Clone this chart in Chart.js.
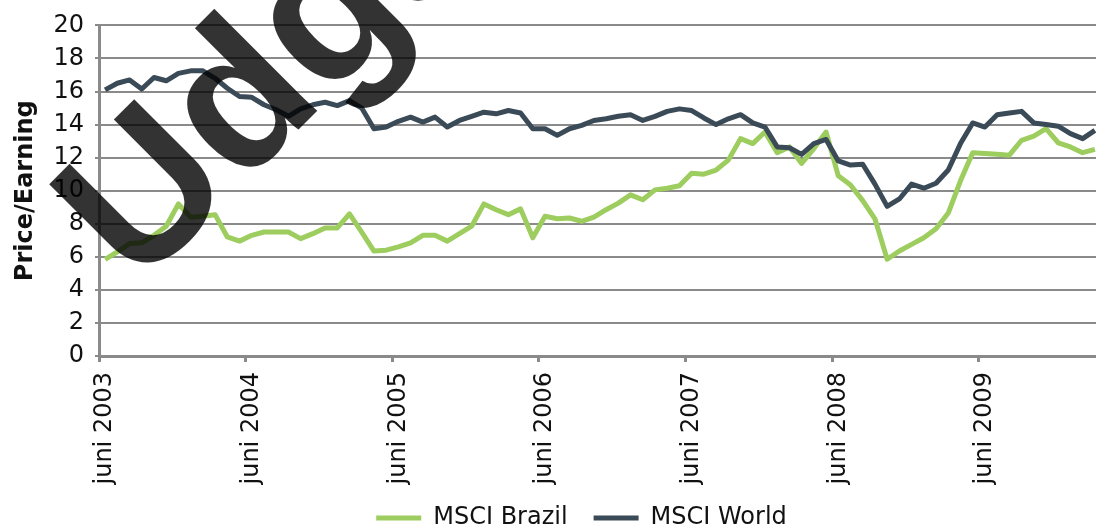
<!DOCTYPE html>
<html>
<head>
<meta charset="utf-8">
<script src="https://cdn.jsdelivr.net/npm/chart.js@4"></script>
<style>
  html, body { margin: 0; padding: 0; background: #fff; overflow: hidden; }
  #wrap { position: relative; width: 1101px; height: 529px; }
</style>
</head>
<body>
<div id="wrap"><canvas id="pe"></canvas></div>
<script>
// month labels, juni 2003 .. marts 2010
const monthNames = ['januar', 'februar', 'marts', 'april', 'maj', 'juni', 'juli',
  'august', 'september', 'oktober', 'november', 'december'];
const months = [];
for (let k = 0; k < 82; k++) {
  const m = (5 + k) % 12;
  const y = 2003 + Math.floor((5 + k) / 12);
  months.push(monthNames[m] + ' ' + y);
}

// P/E
const brazil = [
  5.85, 6.3, 6.8, 6.85, 7.3, 7.85, 9.2, 8.4, 8.45, 8.55, 7.2, 6.95,
  7.3, 7.5, 7.5, 7.5, 7.1, 7.4, 7.75, 7.75, 8.6, 7.5, 6.35, 6.4,
  6.6, 6.85, 7.3, 7.3, 6.95, 7.4, 7.85, 9.2, 8.85, 8.55, 8.9, 7.15,
  8.45, 8.3, 8.35, 8.15, 8.4, 8.85, 9.25, 9.75, 9.45, 10.05, 10.15, 10.3,
  11.05, 11.0, 11.25, 11.85, 13.15, 12.85, 13.55, 12.3, 12.65, 11.65, 12.55, 13.55,
  10.9, 10.35, 9.4, 8.3, 5.85, 6.35, 6.75, 7.15, 7.7, 8.65, 10.6, 12.3,
  12.25, 12.2, 12.15, 13.05, 13.3, 13.75, 12.9, 12.65, 12.3, 12.5
];
const world = [
  16.1, 16.5, 16.7, 16.15, 16.85, 16.65, 17.1, 17.25, 17.25, 16.8, 16.2, 15.7,
  15.65, 15.2, 14.9, 14.5, 14.95, 15.2, 15.35, 15.15, 15.45, 15.0, 13.75, 13.85,
  14.2, 14.45, 14.15, 14.45, 13.85, 14.25, 14.5, 14.75, 14.65, 14.85, 14.7, 13.75,
  13.75, 13.35, 13.75, 13.95, 14.25, 14.35, 14.5, 14.6, 14.25, 14.5, 14.8, 14.95,
  14.85, 14.4, 14.0, 14.35, 14.6, 14.1, 13.85, 12.65, 12.6, 12.2, 12.85, 13.1,
  11.8, 11.55, 11.6, 10.4, 9.05, 9.5, 10.4, 10.15, 10.45, 11.25, 12.85, 14.1,
  13.85, 14.6, 14.7, 14.8, 14.1, 14.0, 13.9, 13.45, 13.15, 13.65
];

const GREEN = '#9dcd5e';
const SLATE = '#3b4a57';
const AXIS = '#8a8a8a';

Chart.defaults.font.family = '"DejaVu Sans", sans-serif';
Chart.defaults.font.size = 24;
Chart.defaults.color = '#111';

// legend sits right of the canvas centre and tucked up under the labels
const nudgeLegend = {
  id: 'nudgeLegend',
  afterLayout(chart) {
    const lg = chart.legend;
    lg.left += 31;
    lg.right += 31;
    lg.top -= 16;
    lg.bottom -= 16;
  }
};

// the big "Udgået" stamp across the chart
const stamp = {
  id: 'stamp',
  afterDraw(chart) {
    const ctx = chart.ctx;
    ctx.save();
    ctx.translate(138, 290);
    ctx.rotate(-Math.PI / 4);
    ctx.font = 'bold 200px "Liberation Sans", Arial, sans-serif';
    ctx.fillStyle = 'rgba(0,0,0,0.8)';
    ctx.textBaseline = 'alphabetic';
    ctx.fillText('Udgået', 0, 0);
    ctx.restore();
  }
};

new Chart(document.getElementById('pe'), {
  type: 'line',
  plugins: [nudgeLegend, stamp],
  data: {
    labels: months,
    datasets: [{
      label: 'MSCI Brazil',
      data: brazil,
      borderColor: GREEN,
      backgroundColor: GREEN,
      borderWidth: 5,
      pointRadius: 0,
      tension: 0,
      borderJoinStyle: 'round',
      order: 2
    }, {
      label: 'MSCI World',
      data: world,
      borderColor: SLATE,
      backgroundColor: SLATE,
      borderWidth: 5,
      pointRadius: 0,
      tension: 0,
      borderJoinStyle: 'round',
      order: 1
    }]
  },
  options: {
    responsive: true,
    maintainAspectRatio: false,
    animation: false,
    events: [],
    layout: {
      padding: { top: 22, right: 0, bottom: -27, left: 0 }
    },
    scales: {
      x: {
        offset: true,
        grid: {
          offset: true,
          drawOnChartArea: false,
          tickLength: 6,
          tickWidth: 3,
          tickColor: ctx => (ctx.index % 12 === 0 ? AXIS : 'rgba(0,0,0,0)')
        },
        border: { color: AXIS, width: 3 },
        ticks: {
          autoSkip: false,
          minRotation: 90,
          maxRotation: 90,
          padding: 10,
          // only the June labels
          callback: function(val, index) {
            return index % 12 === 0 ? this.getLabelForValue(val) : '';
          }
        },
        afterFit: scale => {
          scale.height = 140;
          scale.paddingLeft = 0;
          scale.paddingRight = 0;
        }
      },
      y: {
        min: 0,
        max: 20,
        ticks: { stepSize: 2, padding: 11 },
        grid: { color: AXIS, lineWidth: 2, tickLength: 4 },
        border: { color: AXIS, width: 3 },
        title: {
          display: true,
          text: 'Price/Earning',
          font: { weight: 'bold', size: 24 },
          padding: { top: 11, bottom: 0 }
        },
        afterFit: scale => { scale.width = 99; }
      }
    },
    plugins: {
      legend: {
        position: 'bottom',
        labels: {
          usePointStyle: true,
          pointStyle: 'line',
          pointStyleWidth: 45,
          padding: 26,
          sort: (a, b) => a.datasetIndex - b.datasetIndex
        }
      },
      tooltip: { enabled: false }
    }
  }
});
</script>
</body>
</html>
